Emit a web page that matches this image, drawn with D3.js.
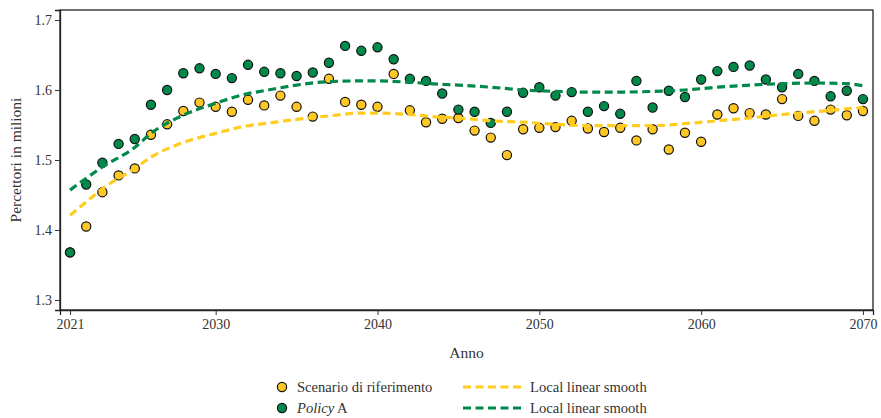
<!DOCTYPE html>
<html lang="it">
<head>
<meta charset="utf-8">
<script src="https://cdn.jsdelivr.net/npm/d3@7"></script>
<style>
  html, body { margin: 0; padding: 0; background: #fff; }
  svg { display: block; font-family: "Liberation Serif", "DejaVu Serif", serif; }
</style>
</head>
<body>
<svg id="chart" width="881" height="418"></svg>
<script>
// Percettori (milioni) per anno: scenario di riferimento e Policy A
const years = d3.range(2021, 2071);

const scenarioRiferimento = [
  1.368, 1.405, 1.454, 1.478, 1.488, 1.536, 1.551, 1.570, 1.582, 1.576,
  1.569, 1.586, 1.578, 1.592, 1.576, 1.562, 1.616, 1.583, 1.579, 1.576,
  1.623, 1.571, 1.554, 1.559, 1.560, 1.542, 1.532, 1.507, 1.544, 1.546,
  1.547, 1.556, 1.545, 1.540, 1.546, 1.528, 1.544, 1.515, 1.539, 1.526,
  1.565, 1.574, 1.567, 1.565, 1.587, 1.563, 1.556, 1.572, 1.564, 1.570
];

const policyA = [
  1.368, 1.465, 1.496, 1.523, 1.530, 1.579, 1.600, 1.624, 1.631, 1.623,
  1.617, 1.636, 1.626, 1.624, 1.620, 1.625, 1.639, 1.663, 1.656, 1.661,
  1.644, 1.616, 1.613, 1.595, 1.572, 1.569, 1.553, 1.569, 1.596, 1.604,
  1.592, 1.597, 1.569, 1.577, 1.566, 1.613, 1.575, 1.599, 1.590, 1.615,
  1.627, 1.633, 1.635, 1.615, 1.604, 1.623, 1.613, 1.591, 1.599, 1.587
];

// Local linear smooth, sampled along the period
const smoothYears = [
  2021, 2022, 2023, 2025, 2026, 2028, 2030, 2032, 2033, 2035,
  2037, 2039, 2040, 2042, 2044, 2045, 2047, 2049, 2051, 2053,
  2055, 2057, 2059, 2061, 2063, 2065, 2067, 2069, 2070
];
const smoothRiferimento = [
  1.421, 1.440, 1.459, 1.488, 1.504, 1.525, 1.538, 1.549, 1.552, 1.558,
  1.563, 1.567, 1.567, 1.565, 1.561, 1.560, 1.556, 1.554, 1.551, 1.549,
  1.549, 1.549, 1.552, 1.556, 1.560, 1.565, 1.569, 1.573, 1.575
];
const smoothPolicyA = [
  1.457, 1.474, 1.490, 1.518, 1.538, 1.564, 1.581, 1.595, 1.599, 1.607,
  1.612, 1.613, 1.613, 1.611, 1.608, 1.607, 1.604, 1.600, 1.598, 1.597,
  1.597, 1.598, 1.600, 1.604, 1.607, 1.609, 1.610, 1.609, 1.606
];

const yTicks = [1.3, 1.4, 1.5, 1.6, 1.7];
const xTicks = [2021, 2030, 2040, 2050, 2060, 2070];

const colYellow = "#FFC726";
const colGreen = "#00894A";
const colYellowLine = "#FFCC1F";
const colGreenLine = "#00894A";

const svg = d3.select("#chart");
const plot = { left: 60, right: 873, top: 10, bottom: 310 };

const x = d3.scaleLinear()
  .domain([2020.38, 2070.62])
  .range([plot.left, plot.right]);
const y = d3.scaleLinear()
  .domain([1.2857, 1.7143])
  .range([plot.bottom, plot.top]);

// frame
svg.append("rect")
  .attr("x", plot.left).attr("y", plot.top)
  .attr("width", plot.right - plot.left)
  .attr("height", plot.bottom - plot.top)
  .attr("fill", "none").attr("stroke", "#222").attr("stroke-width", 1.3);

// axes
const yAxis = d3.axisLeft(y).tickValues(yTicks).tickFormat(d3.format(".1f")).tickSize(5).tickPadding(3);
const xAxis = d3.axisBottom(x).tickValues(xTicks).tickFormat(d3.format("d")).tickSize(5).tickPadding(4);

const gy = svg.append("g").attr("transform", `translate(${plot.left},0)`).call(yAxis);
const gx = svg.append("g").attr("transform", `translate(0,${plot.bottom})`).call(xAxis);
[gy, gx].forEach(g => {
  g.select(".domain").attr("stroke", "#222").attr("stroke-width", 1.3);
  g.selectAll(".tick line").attr("stroke", "#333").attr("stroke-width", 1);
  g.selectAll(".tick text")
    .attr("fill", "#333")
    .style("font-family", "'Liberation Serif', serif")
    .style("font-size", "14px");
});

// axis titles
svg.append("text")
  .attr("x", (plot.left + plot.right) / 2)
  .attr("y", 358)
  .attr("text-anchor", "middle")
  .attr("fill", "#333")
  .style("font-size", "15.5px")
  .text("Anno");

svg.append("text")
  .attr("transform", `translate(21,${(plot.top + plot.bottom) / 2}) rotate(-90)`)
  .attr("text-anchor", "middle")
  .attr("fill", "#333")
  .style("font-size", "15.5px")
  .text("Percettori in milioni");

// scatter points
const pointsLayer = svg.append("g");
function drawPoints(values, fill) {
  pointsLayer.append("g").selectAll("circle")
    .data(years.map((yr, i) => ({ yr, v: values[i] })))
    .join("circle")
    .attr("cx", d => x(d.yr))
    .attr("cy", d => y(d.v))
    .attr("r", 4.6)
    .attr("fill", fill)
    .attr("stroke", "#111")
    .attr("stroke-width", 1.2);
}
drawPoints(scenarioRiferimento, colYellow);
drawPoints(policyA, colGreen);

// smooth lines
const line = d3.line()
  .x(d => x(d.yr))
  .y(d => y(d.v))
  .curve(d3.curveMonotoneX);

function drawSmooth(values, color) {
  svg.append("path")
    .datum(smoothYears.map((yr, i) => ({ yr, v: values[i] })))
    .attr("d", line)
    .attr("fill", "none")
    .attr("stroke", color)
    .attr("stroke-width", 3.2)
    .attr("stroke-dasharray", "8,4.5");
}
drawSmooth(smoothRiferimento, colYellowLine);
drawSmooth(smoothPolicyA, colGreenLine);

// legend
const legend = svg.append("g").style("font-size", "14.6px").attr("fill", "#333");
const rows = [
  { y: 387, fill: colYellow, line: colYellowLine, label: "scen" },
  { y: 408, fill: colGreen, line: colGreenLine, label: "pol" }
];
rows.forEach(r => {
  legend.append("circle")
    .attr("cx", 282).attr("cy", r.y).attr("r", 4.6)
    .attr("fill", r.fill).attr("stroke", "#111").attr("stroke-width", 1.2);
  const t = legend.append("text").attr("x", 297).attr("y", r.y + 4.5).attr("fill", "#333");
  if (r.label === "scen") {
    t.text("Scenario di riferimento");
  } else {
    t.append("tspan").style("font-style", "italic").text("Policy");
    t.append("tspan").text(" A");
  }
  legend.append("line")
    .attr("x1", 463).attr("x2", 521)
    .attr("y1", r.y).attr("y2", r.y)
    .attr("stroke", r.line).attr("stroke-width", 3.2)
    .attr("stroke-dasharray", "8,4.5");
  legend.append("text")
    .attr("x", 530).attr("y", r.y + 4.5).attr("fill", "#333")
    .text("Local linear smooth");
});
</script>
</body>
</html>
